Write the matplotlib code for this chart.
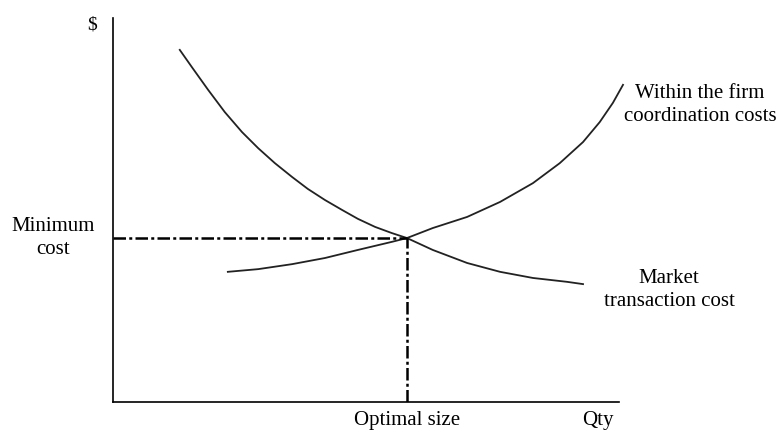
import numpy as np
import matplotlib.pyplot as plt

plt.rcParams['font.family'] = ['Liberation Serif', 'DejaVu Serif']

# Curva de costes de transaccion de mercado (decreciente)
market_x = [1.32, 1.56, 1.88, 2.21, 2.55, 2.87, 3.20, 3.54, 3.85, 4.19, 4.53,
            4.84, 5.18, 5.51, 5.81, 6.32, 7.00, 7.65, 8.30, 8.97, 9.29]
market_y = [9.17, 8.72, 8.13, 7.55, 7.03, 6.61, 6.22, 5.86, 5.55, 5.26, 5.00,
            4.77, 4.56, 4.40, 4.27, 3.96, 3.62, 3.39, 3.23, 3.13, 3.07]

# Curva de costes de coordinacion dentro de la empresa (creciente)
firm_x = [2.27, 2.87, 3.54, 4.19, 4.84, 5.51, 5.81, 6.32, 7.00, 7.65, 8.30,
          8.83, 9.29, 9.62, 9.88, 10.08]
firm_y = [3.39, 3.46, 3.59, 3.75, 3.96, 4.17, 4.27, 4.53, 4.82, 5.21, 5.70,
          6.22, 6.77, 7.29, 7.79, 8.26]

# Punto optimo
opt_x = 5.81
opt_y = 4.27

fig = plt.figure(figsize=(7.77, 4.33), dpi=100)
ax = fig.add_axes([0.1454, 0.0716, 0.6512, 0.8868])
ax.set_xlim(0, 10)
ax.set_ylim(0, 10)

ax.spines['top'].set_visible(False)
ax.spines['right'].set_visible(False)
ax.spines['left'].set_linewidth(1.2)
ax.spines['bottom'].set_linewidth(1.2)
ax.set_xticks([])
ax.set_yticks([])

ax.plot(market_x, market_y, color='#222222', lw=1.3, clip_on=False,
        solid_joinstyle='round')
ax.plot(firm_x, firm_y, color='#222222', lw=1.3, clip_on=False,
        solid_joinstyle='round')

dashdot = (0, (5, 1.3, 1.2, 1.3))
ax.plot([0, opt_x], [opt_y, opt_y], color='black', lw=1.8, linestyle=dashdot)
ax.plot([opt_x, opt_x], [0, opt_y], color='black', lw=1.8, linestyle=dashdot)

fs = 15
ls = 1.3
ax.text(-0.42, 9.82, '$', fontsize=fs - 1, ha='center', va='center')
ax.text(-1.19, 4.27, 'Minimum\ncost', fontsize=fs, ha='center', va='center',
        linespacing=ls)
ax.text(11.6, 7.73, 'Within the firm\ncoordination costs', fontsize=fs,
        ha='center', va='center', linespacing=ls)
ax.text(10.99, 2.92, 'Market\ntransaction cost', fontsize=fs,
        ha='center', va='center', linespacing=ls)
ax.text(opt_x, -0.47, 'Optimal size', fontsize=fs, ha='center', va='center')
ax.text(9.58, -0.47, 'Qty', fontsize=fs, ha='center', va='center')

fig.savefig('out.png', dpi=100)
